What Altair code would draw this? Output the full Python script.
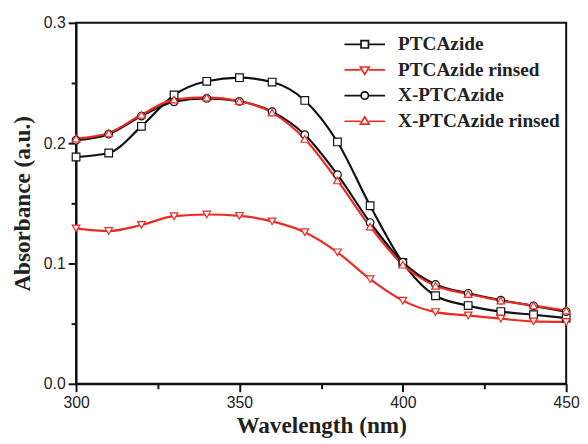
import altair as alt
import pandas as pd

wavelength = [300, 310, 320, 330, 340, 350, 360, 370, 380, 390, 400, 410, 420, 430, 440, 450]
series_names = ["PTCAzide", "PTCAzide rinsed", "X-PTCAzide", "X-PTCAzide rinsed"]
ptc = [0.1885, 0.1918, 0.214, 0.240, 0.2514, 0.2544, 0.2508, 0.2355, 0.201, 0.148, 0.1008, 0.0732, 0.065, 0.060, 0.0574, 0.0547]
ptc_rinsed = [0.1292, 0.127, 0.132, 0.1393, 0.1407, 0.1396, 0.135, 0.126, 0.1093, 0.0869, 0.0691, 0.0596, 0.0568, 0.0541, 0.0519, 0.0514]
xptc = [0.2025, 0.2075, 0.2225, 0.2344, 0.2372, 0.2348, 0.2262, 0.2070, 0.1738, 0.134, 0.101, 0.0825, 0.0752, 0.0695, 0.0648, 0.0600]
xptc_rinsed = [0.2038, 0.2085, 0.2236, 0.2362, 0.2380, 0.2350, 0.2254, 0.2035, 0.1690, 0.1306, 0.0990, 0.0814, 0.0746, 0.0691, 0.0650, 0.0609]
colors = ["#111111", "#ee2a24", "#111111", "#ee2a24"]
shapes = ["square", "triangle-down", "circle", "triangle-up"]
legend_paths = [
    "M-5.5,0H-1M1,0H5.5M-1,-1H1V1H-1Z",
    "M-5.5,0H-1.1M1.1,0H5.5M-1.2,-0.8L1.2,-0.8L0,1.2Z",
    "M-5.5,0H-1M1,0H5.5M-1,0A1,1 0 1,0 1,0A1,1 0 1,0 -1,0Z",
    "M-5.5,0H-1.1M1.1,0H5.5M-1.2,0.8L1.2,0.8L0,-1.2Z",
]

rows = []
for name, vals, col, shp in zip(series_names, [ptc, ptc_rinsed, xptc, xptc_rinsed], colors, shapes):
    for w, v in zip(wavelength, vals):
        rows.append({"wl": w, "abs": v, "series": name, "color": col, "shape": shp})
df = pd.DataFrame(rows)

x_major = "datum.value % 50 == 0"
y_major = "abs(datum.value*10 - round(datum.value*10)) < 0.01"

x_enc = alt.X("wl:Q", scale=alt.Scale(domain=[300, 450], nice=False),
              axis=alt.Axis(title="Wavelength (nm)", values=list(range(300, 451, 25)),
                            labelExpr=f"{x_major} ? datum.label : ''", labelFlush=False,
                            ticks=True,
                            tickSize={"condition": {"test": x_major, "value": 8}, "value": 5}))
y_enc = alt.Y("abs:Q", scale=alt.Scale(domain=[0, 0.3], nice=False),
              axis=alt.Axis(title="Absorbance (a.u.)", values=[0, 0.05, 0.1, 0.15, 0.2, 0.25, 0.3],
                            labelExpr=f"{y_major} ? format(datum.value, '.1f') : ''", labelFlush=False,
                            ticks=True,
                            tickSize={"condition": {"test": y_major, "value": 8}, "value": 5}))

base = alt.Chart(df)
lines = base.mark_line(strokeWidth=2.2, interpolate="monotone").encode(
    x=x_enc, y=y_enc,
    color=alt.Color("color:N", scale=None),
    detail="series:N",
)
points = base.mark_point(filled=True, size=60, strokeWidth=1.2, opacity=1).encode(
    x="wl:Q", y="abs:Q",
    fill=alt.value("white"),
    stroke=alt.Stroke("color:N", scale=None),
    shape=alt.Shape("shape:N", scale=None),
)

leg = alt.Legend(title=None, orient="none", legendX=283, legendY=12,
                 labelFont="Liberation Serif", labelFontWeight="bold", labelFontSize=19.5,
                 labelColor="#222222", labelLimit=400, symbolSize=56, symbolStrokeWidth=1.7,
                 labelOffset=24, rowPadding=5)
dummy = base.transform_filter("datum.wl < 0").mark_point(filled=False).encode(
    x="wl:Q", y="abs:Q",
    shape=alt.Shape("series:N", scale=alt.Scale(domain=series_names, range=legend_paths), legend=leg),
    stroke=alt.Stroke("series:N", scale=alt.Scale(domain=series_names, range=colors), legend=leg),
)

chart = alt.layer(lines, points, dummy).properties(
    width=497, height=366,
    autosize=alt.AutoSizeParams(type="none"),
    padding={"left": 69, "top": 12, "right": 14, "bottom": 58},
).configure_view(
    stroke="#111111", strokeWidth=2
).configure_axis(
    grid=False, domainColor="#111111", domainWidth=2, tickColor="#111111", tickWidth=2,
    tickOpacity=1,
    labelFont="Liberation Sans", labelFontSize=16, labelColor="#222222",
    titleFont="Liberation Serif", titleFontWeight="bold", titleFontSize=23.5, titleColor="#222222",
).configure_axisX(titlePadding=3, labelPadding=3).configure_axisY(titlePadding=9, labelPadding=3)

chart.save("out.html", embed_options={"renderer": "svg", "actions": False})
